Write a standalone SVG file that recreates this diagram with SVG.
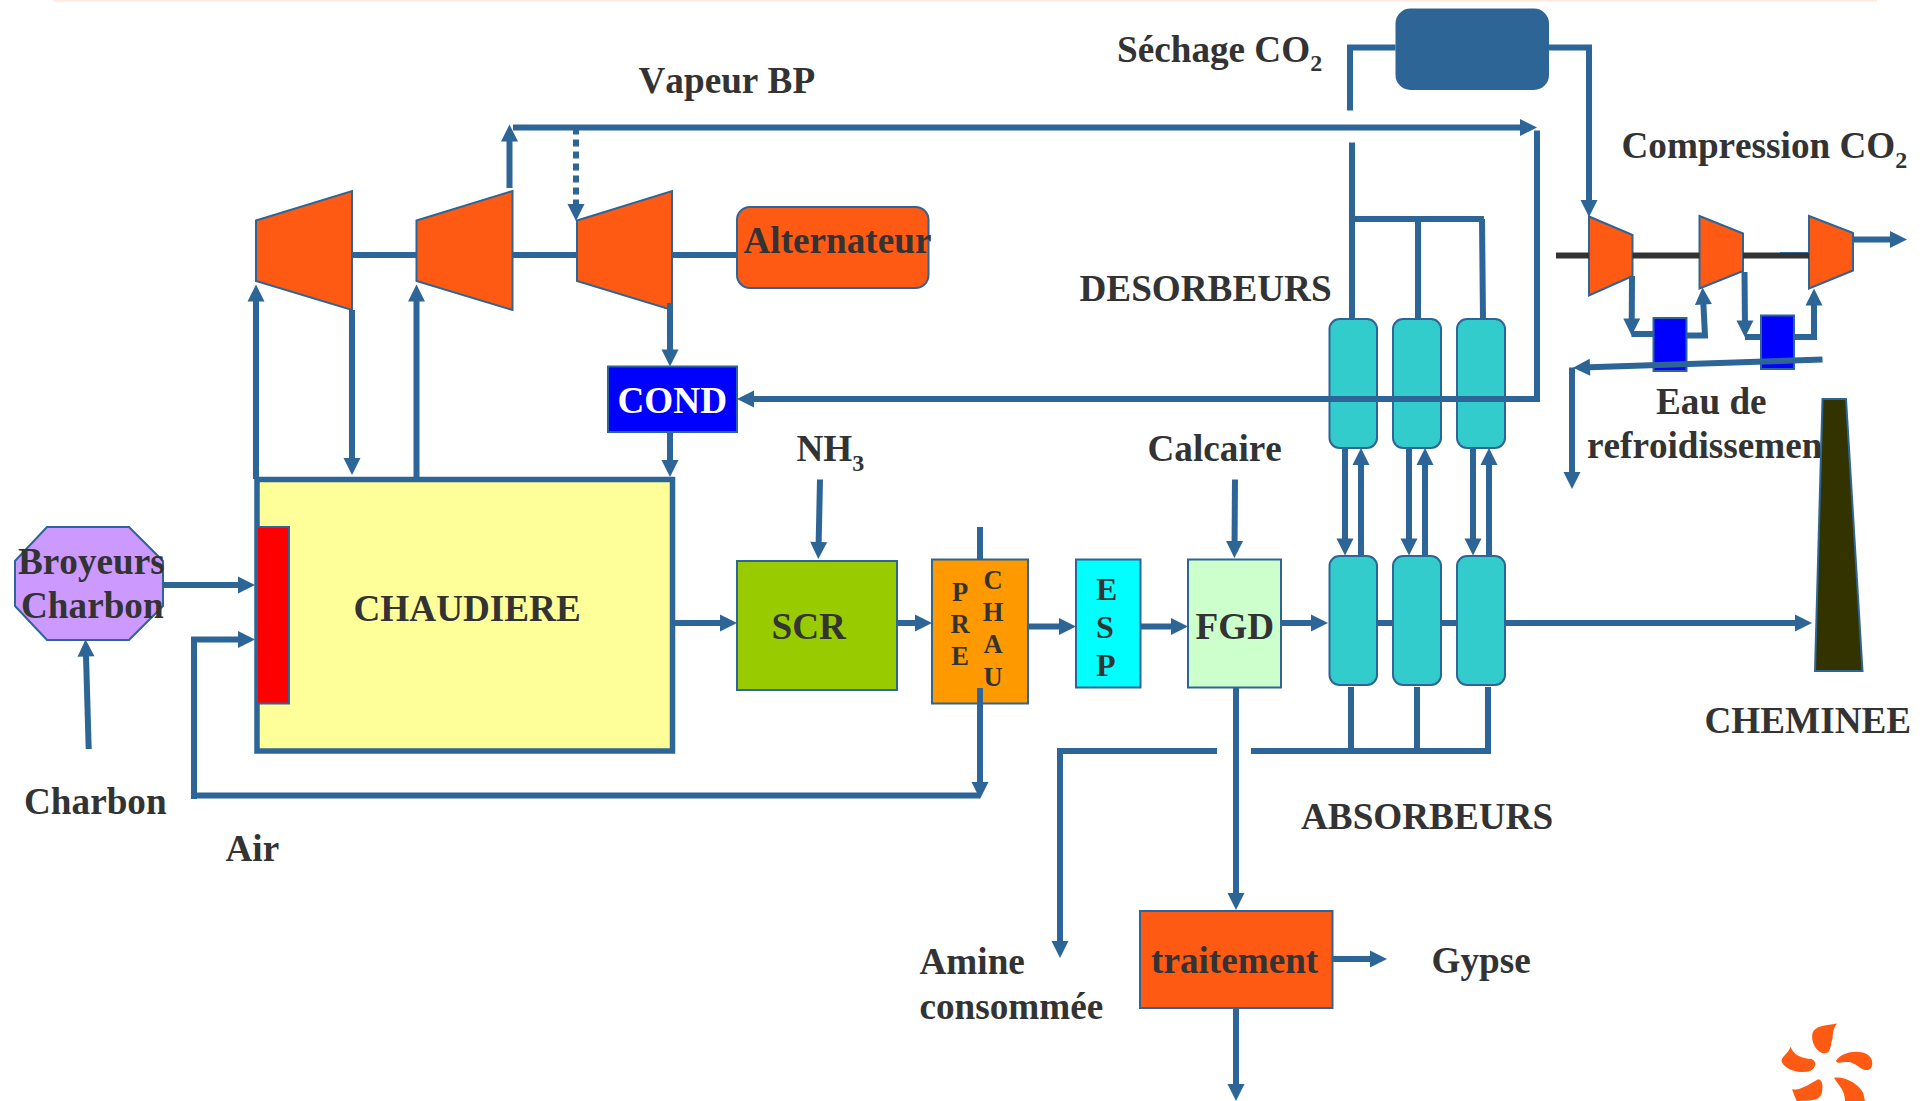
<svg xmlns="http://www.w3.org/2000/svg" width="1932" height="1101" viewBox="0 0 1932 1101">
<style>
text{font-family:"Liberation Serif","Times New Roman",serif;font-weight:bold;font-size:37.2px;fill:#333;font-kerning:none}
.s{font-size:24px}
.l{font-size:26.5px}
.e{font-size:32px}
.b{stroke:#2d6597;stroke-width:2}
.c{stroke:#2d6597;stroke-width:6;fill:none}
.a{marker-end:url(#h)}
.o{fill:#ff5a14}
.t{fill:#33cccc}
</style>
<defs>
<marker id="h" markerUnits="userSpaceOnUse" markerWidth="18" markerHeight="18" refX="8" refY="8.5" orient="auto" overflow="visible"><path d="M0,0L17,8.5L0,17Z" fill="#2d6597"/></marker>
</defs>
<rect id="top-band" x="53" y="0" width="1824" height="1.5" fill="#fde9e0"/>
<g id="labels">
<text x="638.5" y="93">Vapeur BP</text>
<text x="1117" y="61.5">Séchage CO<tspan class="s" dy="9">2</tspan></text>
<text x="1621.5" y="157.5">Compression CO<tspan class="s" dy="10">2</tspan></text>
<text x="1079.5" y="301">DESORBEURS</text>
<text x="796.5" y="461">NH<tspan class="s" dy="10">3</tspan></text>
<text x="1147.5" y="461">Calcaire</text>
<text x="1656" y="413.5">Eau de</text>
<text x="1587" y="458">refroidissement</text>
<text x="24" y="813.5">Charbon</text>
<text x="225.5" y="860.5">Air</text>
<text x="1704.5" y="733">CHEMINEE</text>
<text x="1301" y="829">ABSORBEURS</text>
<text x="919.5" y="973.5">Amine</text>
<text x="919.5" y="1018.5">consommée</text>
<text x="1431.5" y="972.5">Gypse</text>
</g>
<g id="chaudiere">
<rect x="257" y="479.5" width="415.5" height="271.5" fill="#ffff99" stroke="#2d6597" stroke-width="5.5"/>
<text x="353.5" y="621">CHAUDIERE</text>
</g>
<rect id="bruleur" class="b" x="257" y="527" width="32" height="176.5" fill="#ff0000"/>
<g id="broyeurs">
<polygon class="b" points="47,527 129,527 163,561 163,606 129,640 47,640 15,606 15,561" fill="#cc99ff"/>
<text x="18" y="574">Broyeurs</text>
<text x="21" y="617.5">Charbon</text>
</g>
<polygon id="turbine-1" class="b o" points="256,220.5 352,191 352,310 256,281"/>
<polygon id="turbine-2" class="b o" points="416.5,220.5 512.5,191 512.5,310 416.5,281"/>
<polygon id="turbine-3" class="b o" points="577,220.5 672,191 672,310 577,281"/>
<g id="alternateur">
<rect class="b o" x="737" y="207" width="191.5" height="81" rx="13"/>
<text x="743.5" y="253">Alternateur</text>
</g>
<g id="cond">
<rect class="b" x="608" y="366.5" width="129" height="65.5" fill="#0000ff"/>
<text x="617.5" y="413" style="fill:#fff">COND</text>
</g>
<g id="scr">
<rect class="b" x="737" y="561" width="160" height="129" fill="#99cc00"/>
<text x="771.5" y="639">SCR</text>
</g>
<g id="prechau">
<rect class="b" x="932" y="559.5" width="96" height="144" fill="#ff9900"/>
<text class="l" x="960" y="600.5" text-anchor="middle">P</text>
<text class="l" x="960" y="632.5" text-anchor="middle">R</text>
<text class="l" x="960" y="665" text-anchor="middle">E</text>
<text class="l" x="993" y="589" text-anchor="middle">C</text>
<text class="l" x="993" y="620.5" text-anchor="middle">H</text>
<text class="l" x="993" y="653" text-anchor="middle">A</text>
<text class="l" x="993" y="685.5" text-anchor="middle">U</text>
</g>
<g id="esp">
<rect class="b" x="1076" y="559.5" width="64.5" height="128" fill="#00ffff"/>
<text class="e" x="1096" y="599.5">E</text>
<text class="e" x="1096" y="638">S</text>
<text class="e" x="1096" y="676">P</text>
</g>
<g id="fgd">
<rect class="b" x="1188" y="559.5" width="93" height="128" fill="#ccffcc"/>
<text x="1195.5" y="638.5">FGD</text>
</g>
<rect id="absorbeur-1" class="b t" x="1329.5" y="556" width="47.5" height="129" rx="10"/>
<rect id="absorbeur-2" class="b t" x="1393" y="556" width="48" height="129" rx="10"/>
<rect id="absorbeur-3" class="b t" x="1457" y="556" width="48" height="129" rx="10"/>
<rect id="desorbeur-1" class="b t" x="1329.5" y="319" width="47.5" height="129" rx="10"/>
<rect id="desorbeur-2" class="b t" x="1393" y="319" width="48" height="129" rx="10"/>
<rect id="desorbeur-3" class="b t" x="1457" y="319" width="48" height="129" rx="10"/>
<rect id="sechage" x="1395.5" y="8.5" width="153.5" height="81.5" rx="15" fill="#2d6597"/>
<polygon id="compresseur-1" class="b o" points="1589,216.5 1632.5,235 1632.5,276 1589,295.5"/>
<polygon id="compresseur-2" class="b o" points="1699.5,216 1743,233.5 1743,271 1699.5,288.5"/>
<polygon id="compresseur-3" class="b o" points="1809,216 1853,233 1853,270.5 1809,288.5"/>
<rect id="refroidisseur-1" class="b" x="1653.5" y="318" width="33" height="53" fill="#0000ff"/>
<rect id="refroidisseur-2" class="b" x="1761" y="315.5" width="33" height="53.5" fill="#0000ff"/>
<g id="traitement">
<rect class="b o" x="1140" y="911" width="192.5" height="97"/>
<text x="1151" y="973">traitement</text>
</g>
<polygon id="cheminee" class="b" points="1822.5,399 1846,399 1862.5,671 1815,671" fill="#333300"/>
<g id="logo" class="o" transform="translate(1730 990) scale(.3333)">
<path d="M322,100C300,108 262,102 248,128C240,155 262,190 285,190C305,188 300,165 308,145C308,125 312,112 322,100Z"/>
<path d="M182,170C190,195 215,205 245,207C262,215 258,235 240,243C210,252 165,240 155,215C152,200 172,195 182,170Z"/>
<path d="M318,212C335,185 385,178 410,192C432,205 432,235 415,240C395,243 385,225 365,218C345,212 320,225 318,212Z"/>
<path d="M186,297C210,305 240,280 265,268C278,270 280,290 275,310C270,330 250,333 200,333C195,320 190,310 186,297Z"/>
<path d="M312,263C345,258 385,280 400,310L405,333L345,333C345,300 325,285 312,263Z"/>
</g>
<g id="connectors">
<path class="c" d="M352,255H416.5M512.5,255H577M672,255H737"/>
<path d="M1556,255.5H1589M1632.5,255.5H1699.5M1743,255.5H1809" stroke="#333" stroke-width="6" fill="none"/>
<path d="M1780,252.5H1809" stroke="#2d6597" stroke-width="1" fill="none"/>
<path class="c a" d="M513,127.5H1528"/>
<path class="c a" d="M509.5,188V133.5"/>
<path class="c a" d="M576,127.5V212" stroke-dasharray="7 5"/>
<path class="c a" d="M256,479V293.5"/>
<path class="c a" d="M352,310V466"/>
<path class="c a" d="M416.5,479V293.5"/>
<path class="c a" d="M670,303V357.5"/>
<path class="c a" d="M670,432V468"/>
<path class="c a" d="M1537,130.5V399H746"/>
<path class="c a" d="M163,585H246"/>
<path class="c a" d="M194,799V639.5H246"/>
<path class="c a" d="M88.7,749L85.8,648.5"/>
<path class="c" d="M980,527V559.5"/>
<path class="c" d="M194,795.5H980"/>
<path class="c a" d="M980,688V790"/>
<path class="c a" d="M820,479.5L818.5,550"/>
<path class="c a" d="M675,623H728"/>
<path class="c a" d="M897,623H923"/>
<path class="c a" d="M1028,626.5H1067"/>
<path class="c a" d="M1141,626.5H1179"/>
<path class="c a" d="M1235,479.5L1234.5,549"/>
<path class="c a" d="M1281,623H1319"/>
<path class="c" d="M1377,623H1393M1441,623H1457"/>
<path class="c a" d="M1505,623H1803"/>
<path class="c a" d="M1345,448V546.5"/>
<path class="c a" d="M1361,555V457"/>
<path class="c a" d="M1409,448V546.5"/>
<path class="c a" d="M1425,555V457"/>
<path class="c a" d="M1473,448V546.5"/>
<path class="c a" d="M1489,555V457"/>
<path class="c" d="M1351,687V751M1417,687V751M1488,687V751"/>
<path class="c" d="M1251,751H1491"/>
<path class="c a" d="M1217,751H1060V949"/>
<path class="c a" d="M1236,688V901"/>
<path class="c a" d="M1332.5,959H1378"/>
<path class="c a" d="M1236,1008V1092"/>
<path class="c" d="M1350,110.5V47.5H1395.5"/>
<path class="c a" d="M1549,47.5H1589V208"/>
<path class="c" d="M1352,142.5V319"/>
<path class="c" d="M1352,219H1484M1418,219V319M1482,219L1483,319"/>
<path class="c a" d="M1853,239.5H1898"/>
<path class="c a" d="M1632,276L1631.7,326.5"/>
<path class="c" d="M1631.5,334H1653.5"/>
<path class="c a" d="M1686.5,335.5H1705L1703,296.5"/>
<path class="c a" d="M1744.5,272L1745,328.5"/>
<path class="c" d="M1745,337H1761"/>
<path class="c a" d="M1794,337H1814V297.5"/>
<path class="c a" d="M1822.5,359.5L1582,367.4"/>
<path class="c a" d="M1572,367.5V480"/>
</g>
</svg>
